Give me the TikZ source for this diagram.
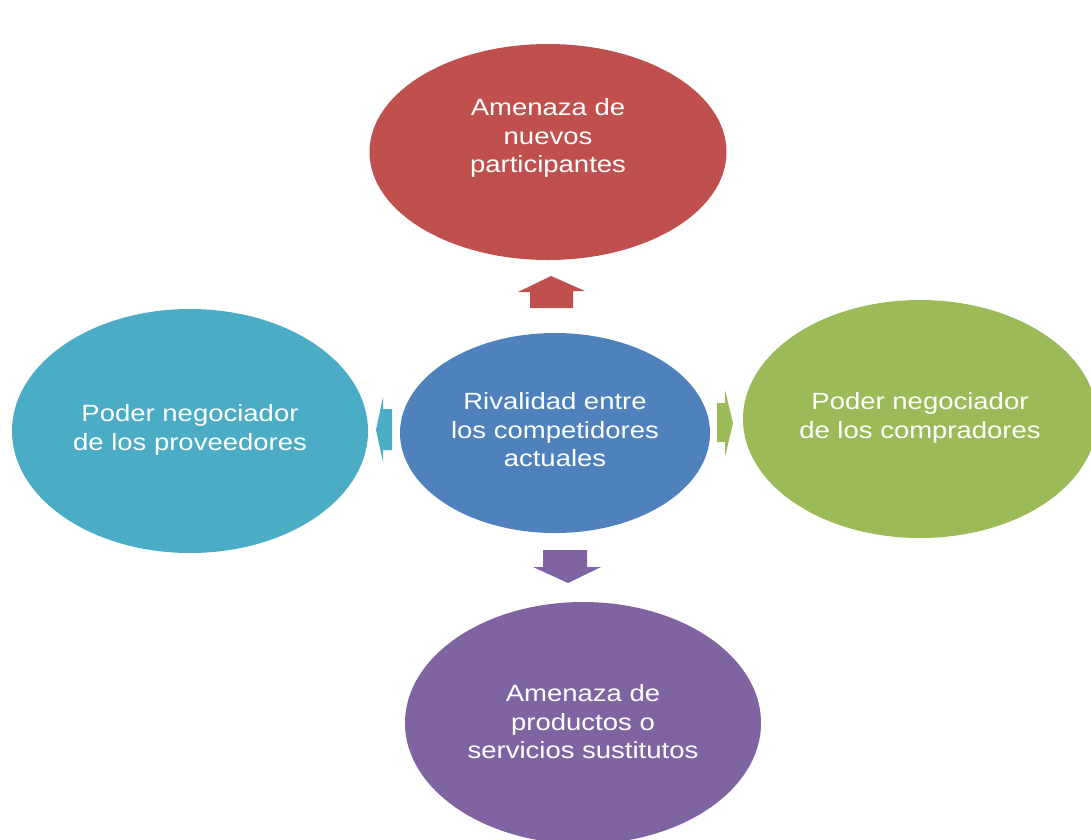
\documentclass[tikz,border=0pt]{standalone}
\usepackage{fontspec}
\usepackage{tikz}
\usetikzlibrary{positioning, shapes.geometric}
\newfontfamily\labelfont[FakeStretch=1.17]{Liberation Sans}
\definecolor{threatred}{RGB}{192,80,77}
\definecolor{supplycyan}{RGB}{75,172,198}
\definecolor{rivalblue}{RGB}{79,129,189}
\definecolor{buyergreen}{RGB}{155,187,89}
\definecolor{substpurple}{RGB}{128,100,162}

\begin{document}
\begin{tikzpicture}[
  x=1pt, y=1pt,
  force/.style={ellipse, inner sep=0pt, draw=none},
  txt/.style={text=white, align=center,
              font=\labelfont\fontsize{23.5}{28.5}\selectfont}]

  \useasboundingbox (0,0) rectangle (1091,-839);

  % --- the five forces
  \node[force, fill=threatred,   minimum width=357, minimum height=216] (entry) at (548,-152) {};
  \node[force, fill=supplycyan,  minimum width=356, minimum height=244] (supp)  at (190,-431) {};
  \node[force, fill=rivalblue,   minimum width=310, minimum height=200] (rival) at (555,-433) {};
  \node[force, fill=buyergreen,  minimum width=354, minimum height=238] (buy)   at (920,-419) {};
  \node[force, fill=substpurple, minimum width=356, minimum height=242] (subst) at (583,-723) {};

  \node[txt] (entryt) at (548,-138) {Amenaza de\\nuevos\\participantes};
  \node[txt] (suppt)  at (190,-430) {Poder negociador\\de los proveedores};
  \node[txt] (rivalt) at (555,-430) {Rivalidad entre\\los competidores\\actuales};
  \node[txt] (buyt)   at (920,-418) {Poder negociador\\de los compradores};
  \node[txt] (substt) at (583,-722) {Amenaza de\\productos o\\servicios sustitutos};

  % --- block arrows out of the rivalry
  \fill[threatred] (530,-308) -- (530,-292) -- (518,-292) -- (551,-276)
    -- (585,-291) -- (573,-291) -- (573,-308) -- cycle;
  \fill[substpurple] (543,-550) -- (587,-550) -- (587,-567) -- (601,-567)
    -- (568,-583) -- (533,-567) -- (543,-567) -- cycle;
  \fill[supplycyan] (392,-409) -- (383,-409) -- (383,-397) -- (376,-430)
    -- (383,-462) -- (383,-450) -- (392,-450) -- cycle;
  \fill[buyergreen] (717,-403) -- (725,-403) -- (725,-390) -- (733,-423)
    -- (725,-457) -- (725,-442) -- (717,-442) -- cycle;
\end{tikzpicture}
\end{document}
